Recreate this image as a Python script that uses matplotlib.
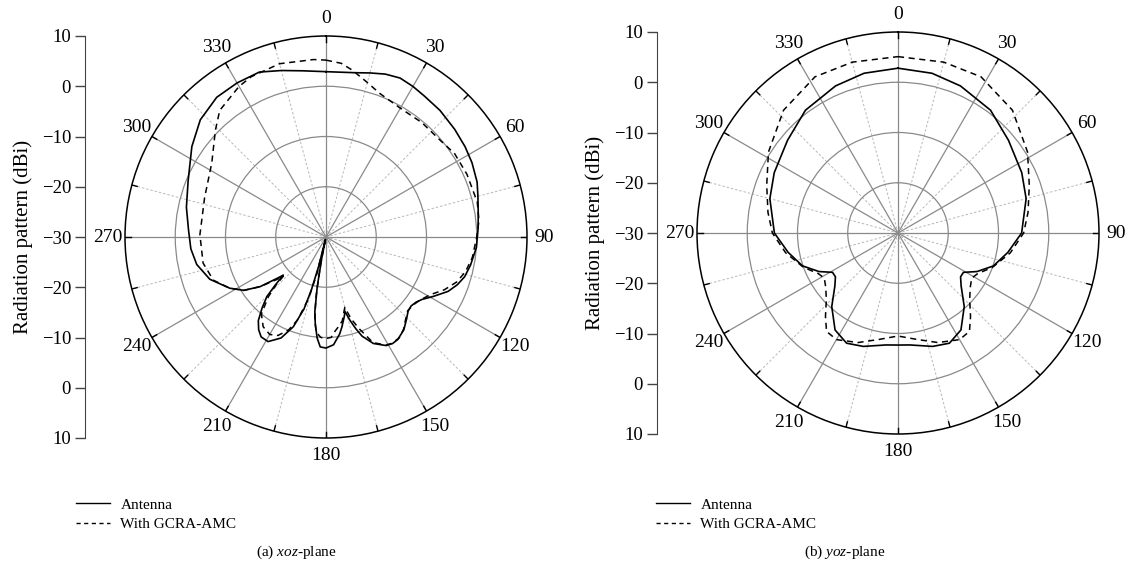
import numpy as np
import matplotlib
matplotlib.use("Agg")
import matplotlib.pyplot as plt
from matplotlib.lines import Line2D

plt.rcParams['font.family'] = ['Liberation Serif', 'DejaVu Serif']
plt.rcParams['mathtext.fontset'] = 'custom'
plt.rcParams['mathtext.it'] = 'Liberation Serif:italic'
plt.rcParams['mathtext.rm'] = 'Liberation Serif'

# ---- data (angle in degrees, gain in dBi) ----
xoz_ant_deg = [0, 10, 15, 20, 25, 30, 35, 42, 50, 57, 63, 70, 75, 82, 87, 94, 101, 106, 110,
               114, 119, 123, 126, 129, 132, 136, 140, 145, 148, 151, 156, 160, 162, 164,
               165.7, 167, 170, 172, 176, 180, 183, 185, 187, 188.5, 190, 191.5, 192.5, 194,
               195.5, 197, 200, 204, 209, 213, 216, 219, 222, 224.8, 226.5, 228.3, 229.5,
               233, 237, 242, 250, 258, 265, 273, 282, 292, 304, 313, 322, 330, 338, 345,
               352, 360]
xoz_ant_db = [2.9, 3.2, 3.8, 4.5, 4.9, 4.6, 4.2, 3.9, 3.4, 3.0, 2.6, 2.0, 1.3, 0.6, 0.3, 0.0,
              -0.7, -1.3, -2.2, -3.4, -5.6, -7.2, -7.9, -8.2, -8.0, -7.0, -5.9, -5.1, -5.0,
              -5.3, -6.8, -9.0, -10.8, -12.8, -14.7, -13.8, -11.8, -10.5, -8.5, -7.9, -8.1,
              -9.8, -12.5, -15.0, -20.0, -26.0, -29.5, -24.0, -19.0, -15.0, -11.0, -8.0,
              -6.2, -6.3, -7.2, -8.6, -11.0, -13.3, -16.0, -18.6, -17.5, -13.6, -10.5, -8.3,
              -5.4, -3.7, -3.0, -2.6, -1.6, -0.4, 2.2, 4.2, 5.3, 5.4, 5.4, 4.3, 3.4, 2.9]

xoz_amc_deg = [0, 5, 9, 14.7, 20.6, 30, 40, 50, 57, 66, 77, 84, 90, 98, 104, 109, 114, 119,
               124, 128, 132, 136, 140, 144, 148, 151, 156, 160, 163, 165, 166, 169, 172,
               175, 177, 180, 183, 186, 188, 189.5, 191, 192.5, 194, 196, 199, 202, 206,
               210, 215, 220, 224, 226, 227.5, 229, 233, 237, 242, 249, 258, 271, 288, 303,
               314, 320, 330, 335, 345, 356, 360]
xoz_amc_db = [5.2, 4.7, 3.6, 1.9, 0.5, -0.4, -0.3, -0.2, 0.5, 0.7, 0.9, 0.6, 0.0, -0.6, -1.4,
              -2.5, -4.2, -6.3, -7.5, -8.0, -8.1, -7.2, -6.0, -5.2, -5.1, -5.4, -7.0, -10.5,
              -13.0, -15.5, -15.0, -13.0, -12.0, -11.0, -10.0, -9.8, -10.0, -11.0, -14.0,
              -18.0, -24.0, -29.0, -22.0, -17.0, -12.5, -10.0, -8.2, -7.6, -8.2, -10.0,
              -13.5, -16.0, -18.5, -17.2, -13.6, -10.5, -8.3, -6.0, -5.0, -4.9, -4.6, -2.9,
              0.6, 2.9, 4.6, 5.2, 5.7, 5.4, 5.2]

yoz_ant_deg = [0, 12, 23, 37, 50, 64, 75, 90, 100, 109, 116, 121, 125, 130, 138, 147, 155,
               163, 174, 180, 186, 197, 205, 213, 222, 230, 235, 239, 244, 251, 260, 270,
               285, 296, 310, 323, 337, 348, 360]
yoz_ant_db = [2.8, 2.5, 1.8, 0.6, -1.3, -2.6, -3.6, -5.4, -7.8, -9.9, -12.5, -14.8, -14.8,
              -13.6, -10.3, -7.0, -5.8, -6.4, -7.6, -7.7, -7.6, -6.4, -5.8, -7.0, -10.3,
              -13.6, -14.8, -14.8, -12.5, -9.9, -7.8, -5.4, -3.6, -2.6, -1.3, 0.6, 1.8, 2.5,
              2.8]

yoz_amc_deg = [0, 15, 28, 43, 58, 70, 81, 90, 100, 110, 117, 121.5, 127, 133, 139, 144, 150,
               160, 170, 180, 190, 200, 210, 216, 221, 227, 233, 238.5, 243, 250, 260, 270,
               279, 290, 302, 317, 332, 345, 360]
yoz_amc_db = [5.1, 5.2, 5.2, 3.4, 0.4, -2.2, -3.8, -5.0, -7.3, -10.0, -12.2, -12.8, -12.0,
              -10.5, -8.0, -5.8, -5.5, -6.8, -8.5, -9.5, -8.5, -6.8, -5.5, -5.8, -8.0,
              -10.5, -12.0, -12.8, -12.2, -10.0, -7.3, -5.0, -3.8, -2.2, 0.4, 3.4, 5.2, 5.2,
              5.1]

theta_labels = ['0', '30', '60', '90', '120', '150', '180', '210', '240', '270', '300', '330']
y_tick_labels = ['10', '0', '\u221210', '\u221220', '\u221230', '\u221220', '\u221210', '0', '10']
legend_labels = ['Antenna', 'With GCRA-AMC']
captions = ['(a) $\\mathit{xoz}$-plane', '(b) $\\mathit{yoz}$-plane']

W, H = 1131, 561
fig = plt.figure(figsize=(W / 100, H / 100), dpi=100)

R = 201
panels = [
    dict(cx=326, cy=237, spine_x=85, deg=(xoz_ant_deg, xoz_amc_deg), db=(xoz_ant_db, xoz_amc_db),
         leg_x=80, cap_x=296),
    dict(cx=898, cy=233, spine_x=657, deg=(yoz_ant_deg, yoz_amc_deg), db=(yoz_ant_db, yoz_amc_db),
         leg_x=660, cap_x=845),
]

for i, p in enumerate(panels):
    ax = fig.add_axes([(p['cx'] - R) / W, (H - p['cy'] - R) / H, 2 * R / W, 2 * R / H],
                      projection='polar')
    ax.set_theta_zero_location('N')
    ax.set_theta_direction(-1)
    ax.set_ylim(-30, 10)

    # rings and spokes
    ax.set_rgrids([-20, -10, 0], labels=[''] * 3)
    ax.set_thetagrids(np.arange(0, 360, 30), labels=theta_labels, fontsize=14)
    ax.grid(True, color='#8a8a8a', linewidth=0.9, linestyle='-')
    ax.tick_params(axis='x', pad=2)
    ax.spines['polar'].set_color('black')
    ax.spines['polar'].set_linewidth(1.1)
    for a in np.arange(15, 360, 30):
        ax.plot([np.deg2rad(a)] * 2, [-30, 10], color='#b8b8b8', linewidth=0.7,
                linestyle=(0, (2.5, 2)), zorder=1)
    for a in np.arange(0, 360, 15):
        ax.plot([np.deg2rad(a)] * 2, [8.9, 10], color='black', linewidth=1.0, zorder=3)

    # curves
    ax.plot(np.deg2rad(p['deg'][0]), p['db'][0], color='black', linewidth=1.2, zorder=4)
    ax.plot(np.deg2rad(p['deg'][1]), p['db'][1], color='black', linewidth=1.1,
            linestyle=(0, (4, 3)), zorder=4)

    # linear dB axis on the left
    yax = fig.add_axes([p['spine_x'] / W, (H - p['cy'] - R) / H, 0.0001, 2 * R / H])
    yax.set_ylim(0, 8)
    yax.set_yticks(range(9))
    yax.set_yticklabels(y_tick_labels[::-1], fontsize=13.5)
    yax.set_xticks([])
    for s in ['top', 'right', 'bottom']:
        yax.spines[s].set_visible(False)
    yax.spines['left'].set_color('#444444')
    yax.tick_params(axis='y', length=7, width=1.0, color='#444444', pad=3)
    yax.set_ylabel('Radiation pattern (dBi)', fontsize=15, labelpad=6)

    # legend
    handles = [Line2D([], [], color='black', linewidth=1.0),
               Line2D([], [], color='black', linewidth=1.0, linestyle=(0, (3, 2.5)))]
    fig.legend(handles, legend_labels, loc='upper left',
               bbox_to_anchor=((p['leg_x'] - 10) / W, (H - 492) / H), frameon=False,
               fontsize=11, handlelength=2.2, handletextpad=0.7, labelspacing=0.35,
               borderaxespad=0)

    fig.text(p['cap_x'] / W, (H - 552) / H, captions[i], ha='center', va='center',
             fontsize=11)

fig.savefig('out.png', dpi=100)
